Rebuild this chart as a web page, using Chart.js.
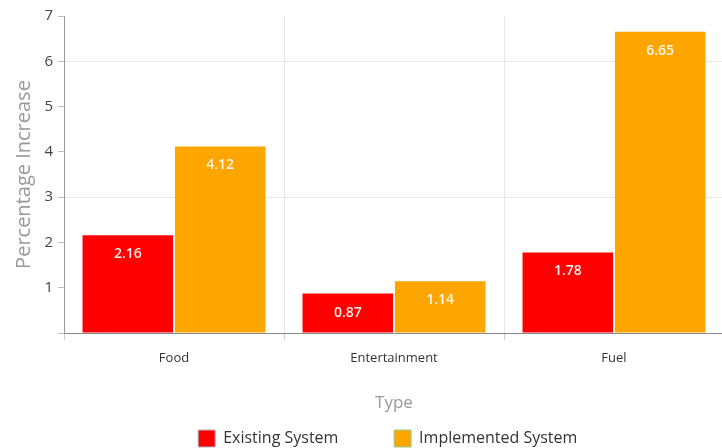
<!DOCTYPE html>
<html>
<head>
<meta charset="utf-8">
<script src="https://cdn.jsdelivr.net/npm/chart.js@4"></script>
<style>
  html, body { margin: 0; padding: 0; background: #fff; overflow: hidden; }
  #wrap { width: 724px; height: 457px; position: relative; }
</style>
</head>
<body>
<div id="wrap"><canvas id="barChart"></canvas></div>
<script>
var categories = ['Food', 'Entertainment', 'Fuel'];
var existingValues = [2.16, 0.87, 1.78];
var implementedValues = [4.12, 1.14, 6.65];
var seriesNames = ['Existing System', 'Implemented System'];
var seriesColors = ['#ff0000', '#ffa500'];
var legendBorders = ['#aab4cc', '#99cc99'];
var yTicks = [0, 1, 2, 3, 4, 5, 6, 7];

/* white value labels near the top of each bar */
var valueLabels = {
    id: 'valueLabels',
    afterDatasetsDraw: function(chart) {
        var ctx = chart.ctx;
        ctx.save();
        ctx.font = '600 14px "Open Sans"';
        ctx.fillStyle = 'rgba(255,255,255,0.92)';
        ctx.textAlign = 'center';
        ctx.textBaseline = 'middle';
        chart.data.datasets.forEach(function(ds, i) {
            chart.getDatasetMeta(i).data.forEach(function(bar, j) {
                ctx.fillText(ds.data[j].toFixed(2), bar.x, bar.y + 19);
            });
        });
        ctx.restore();
    }
};

var font = 'Open Sans';
new Chart(document.getElementById('barChart'), {
    type: 'bar',
    data: {
        labels: categories,
        datasets: [{
            label: seriesNames[0],
            data: existingValues,
            backgroundColor: seriesColors[0],
            categoryPercentage: 0.84,
            barPercentage: 0.98
        }, {
            label: seriesNames[1],
            data: implementedValues,
            backgroundColor: seriesColors[1],
            categoryPercentage: 0.84,
            barPercentage: 0.98
        }]
    },
    options: {
        responsive: true,
        maintainAspectRatio: false,
        animation: false,
        layout: { padding: { top: 16, right: 0, bottom: 0, left: 0 } },
        plugins: {
            tooltip: { enabled: false },
            legend: {
                position: 'bottom',
                fullSize: false,
                labels: {
                    boxWidth: 17,
                    boxHeight: 17,
                    padding: 10,
                    color: '#333',
                    font: { family: font, size: 16 },
                    generateLabels: function() {
                        return seriesNames.map(function(n, i) {
                            return {
                                text: i === 0 ? n + '           ' : n + '   ',
                                fillStyle: seriesColors[i],
                                strokeStyle: legendBorders[i],
                                lineWidth: 1,
                                fontColor: '#333',
                                datasetIndex: i,
                                hidden: false
                            };
                        });
                    }
                }
            }
        },
        scales: {
            x: {
                afterFit: function(s) { s.height = 87; },
                grid: {
                    tickColor: '#ccc',
                    tickLength: 7,
                    color: function(c) { return c.index >= categories.length ? 'rgba(0,0,0,0)' : '#e8e8e8'; }
                },
                border: { color: '#888' },
                ticks: { color: '#333', padding: 10, font: { family: font, size: 13 } },
                title: {
                    display: true, text: 'Type', color: '#999',
                    font: { family: font, size: 17 },
                    padding: { top: 0, bottom: 7 }
                }
            },
            y: {
                min: 0,
                max: 7,
                afterFit: function(s) { s.width = 64; },
                afterBuildTicks: function(s) { s.ticks = yTicks.map(function(v) { return { value: v }; }); },
                grid: {
                    tickLength: 6,
                    tickColor: '#bbb',
                    color: function(c) { return c.tick && c.tick.value > 0 && c.tick.value % 3 === 0 ? '#e8e8e8' : 'rgba(0,0,0,0)'; }
                },
                border: { color: '#999' },
                ticks: {
                    color: '#444', padding: 5,
                    font: { family: font, size: 15 },
                    callback: function(v) { return v === 0 ? '' : v; }
                },
                title: {
                    display: true, text: 'Percentage Increase', color: '#999',
                    font: { family: font, size: 20 },
                    padding: { top: 12, bottom: 0 }
                }
            }
        }
    },
    plugins: [valueLabels]
});
</script>
</body>
</html>
